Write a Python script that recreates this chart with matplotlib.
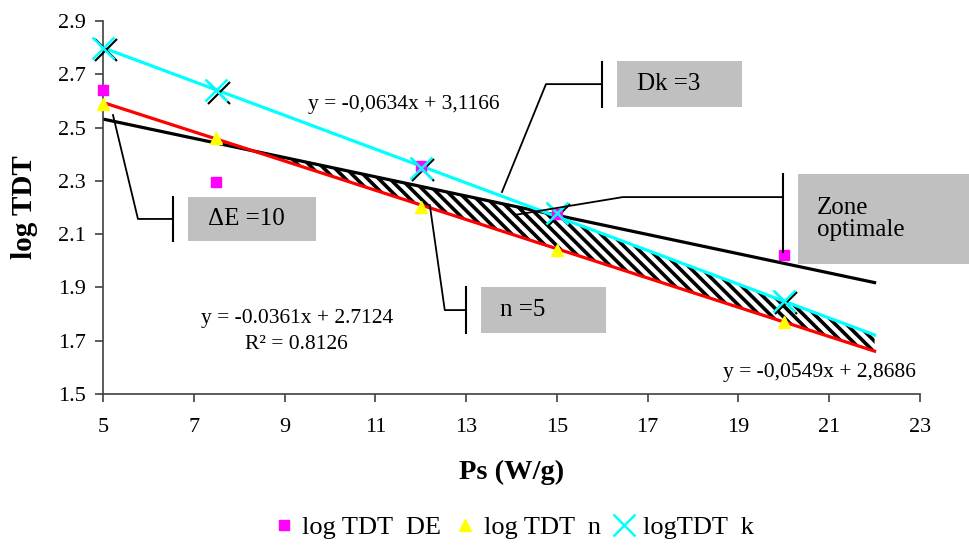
import numpy as np
import matplotlib.pyplot as plt
import matplotlib.transforms as mtransforms
from matplotlib.patches import Rectangle

plt.rcParams['font.family'] = ['Liberation Serif', 'DejaVu Serif']
plt.rcParams['hatch.linewidth'] = 2.6

# data
ps = [5, 7.5, 12, 15, 20]
log_tdt_de = [2.64, 2.295, 2.355, 2.175, 2.02]
log_tdt_n = [2.59, 2.46, 2.20, 2.04, 1.77]
log_tdt_k = [2.80, 2.64, 2.35, 2.18, 1.85]

# trend lines (slope, intercept)
fit_k = (-0.0634, 3.1166)
fit_n = (-0.0549, 2.8686)
fit_de = (-0.0361, 2.7124)
x_fit = np.linspace(5, 22, 200)

fig = plt.figure(figsize=(9.69, 5.52), dpi=100)
ax = fig.add_axes([0.1063, 0.2862, 0.8431, 0.6758])

yk = fit_k[0] * x_fit + fit_k[1]
yn = fit_n[0] * x_fit + fit_n[1]
yde = fit_de[0] * x_fit + fit_de[1]

# hatched optimal zone between red line and min(black, cyan)
upper = np.minimum(yde, yk)
ax.fill_between(x_fit, yn, upper, where=upper > yn, facecolor='white',
                edgecolor='black', hatch='\\\\\\', linewidth=0, zorder=1)

ax.plot(x_fit, yde, color='black', lw=2.3, zorder=2)
ax.plot(x_fit, yn, color='#ff0000', lw=2.3, zorder=3)
ax.plot(x_fit, yk, color='#00ffff', lw=2.3, zorder=3)

# black shadow crosses behind the cyan ones
shadow = mtransforms.offset_copy(ax.transData, fig=fig, x=2.5, y=-2.5, units='dots')
ax.plot(ps, log_tdt_k, ls='none', marker='x', ms=16, mew=1.5, color='black',
        transform=shadow, zorder=4, clip_on=False)
ax.plot(ps, log_tdt_de, ls='none', marker='s', ms=7, color='#ff00ff', zorder=5,
        label='log TDT  DE', clip_on=False)
ax.plot(ps, log_tdt_n, ls='none', marker='^', ms=8, color='#ffff00', zorder=5,
        label='log TDT  n', clip_on=False)
ax.plot(ps, log_tdt_k, ls='none', marker='x', ms=16, mew=1.8, color='#00ffff',
        zorder=6, label='logTDT  k', clip_on=False)

ax.set_xlim(5, 23)
ax.set_ylim(1.5, 2.9)
ax.set_xticks(np.arange(5, 24, 2))
ax.set_yticks(np.arange(1.5, 2.91, 0.2))
ax.set_yticklabels(['%.1f' % v for v in np.arange(1.5, 2.91, 0.2)])
for s in ['top', 'right']:
    ax.spines[s].set_visible(False)
for s in ['left', 'bottom']:
    ax.spines[s].set_color('#404040')
    ax.spines[s].set_linewidth(1.2)
ax.tick_params(direction='out', length=5.5, width=1.2, color='#404040',
               labelsize=16)
ax.tick_params(axis='x', pad=12)
ax.tick_params(axis='y', pad=7)
ax.set_xlabel('Ps (W/g)', fontsize=20.5, fontweight='bold', labelpad=16)
ax.set_ylabel('log TDT', fontsize=21, fontweight='bold', labelpad=14)

# equations
ax.text(11.63, 2.588, 'y = -0,0634x + 3,1166', fontsize=15.5, ha='center', va='center')
ax.text(9.27, 1.785, 'y = -0.0361x + 2.7124', fontsize=15.5, ha='center', va='center')
ax.text(9.27, 1.684, 'R\u00b2 = 0.8126', fontsize=15.5, ha='center', va='center')
ax.text(20.79, 1.579, 'y = -0,0549x + 2,8686', fontsize=15.5, ha='center', va='center')

# callouts: (line path, bar x, bar y range, box x range, box y range, text, text x)
callouts = [
    ([5.22, 5.77, 6.54], [2.547, 2.157, 2.157], 6.54, (2.074, 2.239),
     (6.87, 9.69), (2.074, 2.239), '\u0394E =10', 7.31),
    ([13.79, 14.76, 15.99], [2.258, 2.663, 2.663], 15.99, (2.577, 2.746),
     (16.32, 19.07), (2.577, 2.75), 'Dk =3', 16.76),
    ([14.07, 16.45, 19.98], [2.172, 2.239, 2.239], 19.98, (2.033, 2.326),
     (20.31, 24.1), (1.988, 2.326), 'Zone\noptimale', 20.73),
    ([12.2, 12.53, 13.0], [2.209, 1.815, 1.815], 13.0, (1.729, 1.901),
     (13.33, 16.08), (1.729, 1.901), 'n =5', 13.74),
]
for lx, ly, bx, by, rx, ry, txt, tx in callouts:
    ax.plot(lx, ly, color='black', lw=1.3, zorder=7, clip_on=False)
    ax.plot([bx, bx], by, color='black', lw=1.5, zorder=7, clip_on=False)
    ax.add_patch(Rectangle((rx[0], ry[0]), rx[1] - rx[0], ry[1] - ry[0],
                           facecolor='#c0c0c0', edgecolor='none', zorder=7,
                           clip_on=False))
    ax.text(tx, (ry[0] + ry[1]) / 2, txt, fontsize=18, ha='left', va='center',
            zorder=8, clip_on=False, linespacing=1.0)

fig.legend(loc='lower center', bbox_to_anchor=(0.53, -0.01), ncol=3,
           frameon=False, fontsize=19, handlelength=0.8, handletextpad=0.3,
           columnspacing=0.5, borderpad=0.2)

fig.savefig('out.png', dpi=100)
